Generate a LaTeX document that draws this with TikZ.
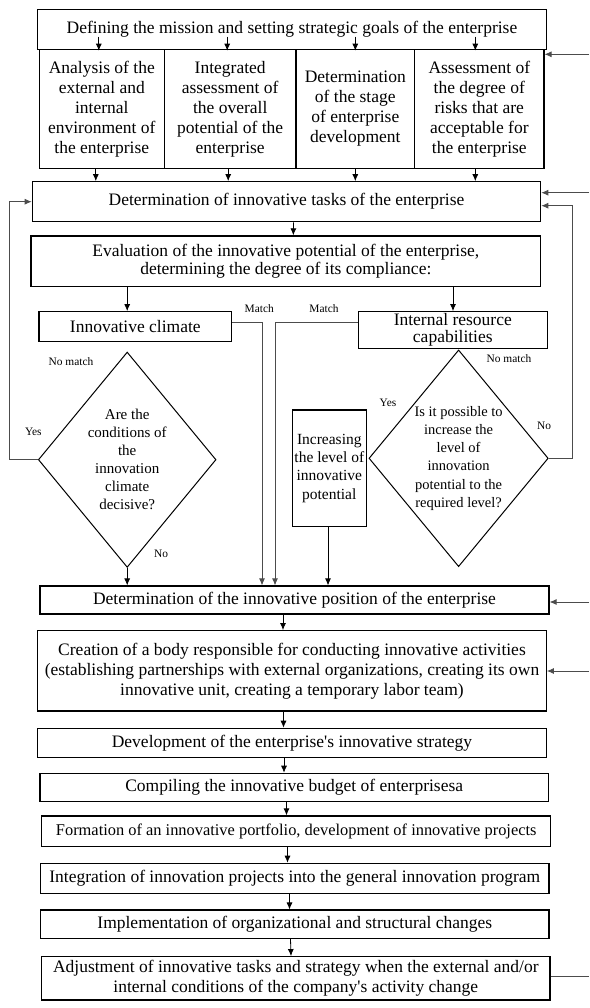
\documentclass[tikz,border=0pt]{standalone}
\usepackage{fontspec}
\setmainfont{Liberation Serif}
\usetikzlibrary{positioning,arrows.meta,calc,shapes.geometric}

\begin{document}
\begin{tikzpicture}[>={Latex[length=7pt,width=6pt]}, x=1pt, y=-1pt,
   blk/.style={draw, line width=1.2pt, align=center, inner sep=1pt,
               font=\fontsize{17.5}{20}\selectfont},
   dec/.style={draw, diamond, aspect=0.82, line width=1pt, align=center,
               inner sep=0pt, font=\fontsize{15}{18}\selectfont},
   lbl/.style={font=\fontsize{11.4}{13}\selectfont, inner sep=0pt},
   arr/.style={->, line width=0.8pt},
   fb/.style={->, line width=0.8pt, draw=black!70}]
  \useasboundingbox (0,0) rectangle (589,1008);
  % goals and the four analyses
  \node[blk, minimum width=508.6pt, minimum height=40pt] (mission) at (292,29.3)
    {Defining the mission and setting strategic goals of the enterprise};
  \node[blk, minimum width=125pt, minimum height=119pt] (analysis) at (101.8,108.8)
    {Analysis of the\\external and\\internal\\environment of\\the enterprise};
  \node[blk, minimum width=131.7pt, minimum height=119pt] (integr) at (230.2,108.8)
    {Integrated\\assessment of\\the overall\\potential of the\\enterprise};
  \node[blk, minimum width=118.7pt, minimum height=119pt] (stage) at (355.3,108.8)
    {Determination\\of the stage\\of enterprise\\development};
  \node[blk, minimum width=129.3pt, minimum height=119pt] (risks) at (479.3,108.8)
    {Assessment of\\the degree of\\risks that are\\acceptable for\\the enterprise};
  \node[blk, minimum width=508.4pt, minimum height=40pt] (tasks) at (286.5,201.7)
    {Determination of innovative tasks of the enterprise};
  \node[blk, minimum width=509.7pt, minimum height=50.7pt,
        font=\fontsize{17.5}{18.7}\selectfont] (evalpot) at (285.8,261.3)
    {Evaluation of the innovative potential of the enterprise,\\determining the degree of its compliance:};
  % compliance checks
  \node[blk, minimum width=192.7pt, minimum height=30pt] (climate) at (135.3,326.7)
    {Innovative climate};
  \node[blk, minimum width=189pt, minimum height=36.6pt,
        font=\fontsize{17.5}{17}\selectfont] (resource) at (452.8,330)
    {Internal resource\\capabilities};
  \node[dec, minimum width=177.7pt, minimum height=215.3pt] (climdec) at (127.2,459.7)
    {Are the\\conditions of\\the\\innovation\\climate\\decisive?};
  \node[dec, minimum width=179.3pt, minimum height=216.7pt,
        font=\fontsize{14.5}{18.2}\selectfont] (potdec) at (458.6,458.3)
    {Is it possible to\\increase the\\level of\\innovation\\potential to the\\required level?};
  \node[blk, minimum width=74pt, minimum height=116.7pt,
        font=\fontsize{15.5}{18.3}\selectfont] (incr) at (329.3,468.3)
    {Increasing\\the level of\\innovative\\potential};
  % main chain
  \node[blk, minimum width=509pt, minimum height=28pt] (position) at (294.5,600)
    {Determination of the innovative position of the enterprise};
  \node[blk, minimum width=508.6pt, minimum height=80.3pt] (creation) at (292,670.8)
    {Creation of a body responsible for conducting innovative activities\\(establishing partnerships with external organizations, creating its own\\innovative unit, creating a temporary labor team)};
  \node[blk, minimum width=508.6pt, minimum height=29pt] (develop) at (292,742.8)
    {Development of the enterprise\textquotesingle s innovative strategy};
  \node[blk, minimum width=508.3pt, minimum height=28.4pt] (budget) at (294.2,787.5)
    {Compiling the innovative budget of enterprisesa};
  \node[blk, minimum width=509pt, minimum height=30.7pt,
        font=\fontsize{16.4}{20}\selectfont] (portf) at (296.2,831.3)
    {Formation of an innovative portfolio, development of innovative projects};
  \node[blk, minimum width=508.3pt, minimum height=30pt] (integ) at (294.8,878.3)
    {Integration of innovation projects into the general innovation program};
  \node[blk, minimum width=508.3pt, minimum height=28.3pt] (implem) at (294.8,924.2)
    {Implementation of organizational and structural changes};
  \node[blk, minimum width=508.3pt, minimum height=43.3pt] (adjust) at (295.8,978.3)
    {Adjustment of innovative tasks and strategy when the external and/or\\internal conditions of the company\textquotesingle s activity change};
  % small labels
  \node[lbl] (match1) at (259.3,308.3) {Match};
  \node[lbl] (match2) at (324,308.3) {Match};
  \node[lbl] (nomatch1) at (71,361.7) {No match};
  \node[lbl] (nomatch2) at (509,358.3) {No match};
  \node[lbl] (yes1) at (33.3,431.7) {Yes};
  \node[lbl] (no1) at (161,554) {No};
  \node[lbl] (yes2) at (388,403.3) {Yes};
  \node[lbl] (no2) at (544,425.7) {No};
  % bends and loose ends
  \coordinate (lcorner) at (9.5,0);
  \coordinate (rcorner) at (572.5,0);
  \coordinate (m1) at (262,322.7);
  \coordinate (m2) at (275,322);
  \coordinate (inA) at (589,54.3);
  \coordinate (inB) at (589,192.7);
  \coordinate (inC) at (589,602);
  \coordinate (inD) at (589,671);
  \coordinate (outE) at (589,976.7);
  % arrows
  \draw[arr] ($(analysis.north |- mission.center)+(-3,7.4)$) -- ($(analysis.north)+(-3,2)$);
  \draw[arr] ($(integr.north |- mission.center)+(-3,7.4)$) -- ($(integr.north)+(-3,2)$);
  \draw[arr] ($(stage.north |- mission.center)+(0,7.4)$) -- ($(stage.north)+(0,2)$);
  \draw[arr] ($(risks.north |- mission.center)+(-4,7.4)$) -- ($(risks.north)+(-4,2)$);
  \draw[arr] ($(analysis.south)+(-6,0)$) -- ($(analysis.south |- tasks.north)+(-6,0)$);
  \draw[arr] ($(integr.south)+(-2,0)$) -- ($(integr.south |- tasks.north)+(-2,0)$);
  \draw[arr] (stage.south) -- (stage.south |- tasks.north);
  \draw[arr] ($(risks.south)+(-4,0)$) -- ($(risks.south |- tasks.north)+(-4,0)$);
  \draw[arr] ($(tasks.south)+(7,0)$) -- ($(evalpot.north)+(7.5,0)$);
  \draw[arr] (evalpot.south -| climdec.north) -- (climate.north -| climdec.north);
  \draw[arr] (evalpot.south -| 453,0) -- (resource.north -| 453,0);
  \draw[fb] (climate.east |- m1) -| (m1 |- position.north);
  \draw[fb] (resource.west |- m2) -| (m2 |- position.north);
  \draw[fb] (climdec.west) -- (climdec.west -| lcorner) |- (tasks.west);
  \draw[arr] (climdec.south) -- (climdec.south |- position.north);
  \draw[fb] (potdec.east) -- (potdec.east -| rcorner) |- ($(tasks.east)+(0,4)$);
  \draw[arr] (incr.south -| 328,0) -- (position.north -| 328,0);
  \draw[fb] (inA) -- (inA -| risks.east);
  \draw[fb] (inB) -- (inB -| tasks.east);
  \draw[fb] (inC) -- (inC -| position.east);
  \draw[fb] (inD) -- (inD -| creation.east);
  \draw[line width=0.8pt, draw=black!70] (adjust.east |- outE) -- (outE);
  \draw[arr] (position.south -| 283,0) -- (creation.north -| 283,0);
  \draw[arr] (creation.south -| 283.5,0) -- (develop.north -| 283.5,0);
  \draw[arr] (develop.south -| 284,0) -- (budget.north -| 284,0);
  \draw[arr] (budget.south -| 286.5,0) -- (portf.north -| 286.5,0);
  \draw[arr] (portf.south -| 287.5,0) -- (integ.north -| 287.5,0);
  \draw[arr] (integ.south -| 289.5,0) -- (implem.north -| 289.5,0);
  \draw[arr] (implem.south -| 290.5,0) -- (adjust.north -| 291,0);
\end{tikzpicture}
\end{document}
